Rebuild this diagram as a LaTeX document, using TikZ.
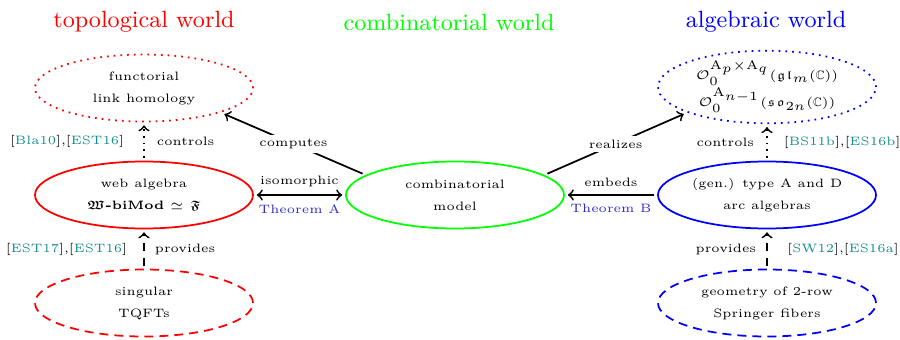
\documentclass[tikz,border=0pt]{standalone}
\usepackage{amsmath,amssymb,bm}
\usetikzlibrary{shapes.geometric}
\definecolor{citecol}{RGB}{20,140,140}
\definecolor{thmcol}{RGB}{45,45,200}
\newcommand\mycite[1]{[\textcolor{citecol}{#1}]}
\begin{document}
\begin{tikzpicture}[x=0.4pt,y=-0.4pt,
  world/.style={font=\fontsize{9.4pt}{11pt}\selectfont},
  blob/.style={ellipse, minimum width=87.2pt, minimum height=26.8pt, inner sep=0pt, outer sep=1.5pt, line width=0.7pt, align=center, font=\fontsize{4.87pt}{8.8pt}\selectfont},
  dashpat/.style={dash pattern=on 3.6pt off 2.4pt},
  lab/.style={font=\fontsize{4.87pt}{6pt}\selectfont, inner sep=0pt},
  thm/.style={lab, text=thmcol},
  conn/.style={->, line width=0.7pt},
]
\useasboundingbox (0,0) rectangle (900,340);
\node[world, text=red] (t1) at (144,22) {topological world};
\node[world, text=green] (t2) at (449,22) {combinatorial world};
\node[world, text=blue] (t3) at (766,22) {algebraic world};

\node[blob, draw=red, dotted] (flh) at (144,88) {functorial\\link homology};
\node[blob, draw=red] (web) at (144,195) {web algebra\\$\boldsymbol{\mathfrak{W}}$\textbf{-biMod} $\simeq$ $\boldsymbol{\mathfrak{F}}$};
\node[blob, draw=red, dashpat] (tqft) at (144,303) {singular\\TQFTs};
\node[blob, draw=green] (comb) at (455,195) {combinatorial\\model};
\node[blob, draw=blue, dotted] (cat) at (767,87) {$\mathcal{O}_0^{\mathrm{A}_p\times\mathrm{A}_q}(\mathfrak{gl}_m(\mathbb{C}))$\\$\mathcal{O}_0^{\mathrm{A}_{n-1}}(\mathfrak{so}_{2n}(\mathbb{C}))$};
\node[blob, draw=blue] (arc) at (767,195) {(gen.) type A and D\\arc algebras};
\node[blob, draw=blue, dashpat] (spr) at (767,303) {geometry of 2-row\\Springer fibers};

\draw[conn, dotted] (web) -- (flh)
  node[lab, midway, right=4.8pt] (l1) {controls}
  node[lab, midway, left=7.6pt] (c1) {\mycite{Bla10},\mycite{EST16}};
\draw[conn, dashed] (tqft) -- (web)
  node[lab, midway, right=4pt] (l2) {provides}
  node[lab, midway, left=6.4pt] (c2) {\mycite{EST17},\mycite{EST16}};
\draw[conn, dotted] (arc) -- (cat)
  node[lab, midway, left=4.8pt] (l3) {controls}
  node[lab, midway, right=6.4pt] (c3) {\mycite{BS11b},\mycite{ES16b}};
\draw[conn, dashed] (spr) -- (arc)
  node[lab, midway, left=4pt] (l4) {provides}
  node[lab, midway, right=7.8pt] (c4) {\mycite{SW12},\mycite{ES16a}};

\draw[<->, line width=0.7pt] (web) -- (comb)
  node[lab, midway, above=3pt] (l5) {isomorphic}
  node[thm, midway, below=3.4pt] (th1) {Theorem A};
\draw[conn] (arc) -- (comb)
  node[lab, midway, above=3pt] (l6) {embeds}
  node[thm, midway, below=3.4pt] (th2) {Theorem B};

\draw[conn] (comb.167) -- (flh.-18)
  node[lab, midway, fill=white, inner sep=1.5pt] (l7) {computes};
\draw[conn] (comb.13) -- (cat.198)
  node[lab, midway, fill=white, inner sep=1.5pt] (l8) {realizes};
\end{tikzpicture}
\end{document}
